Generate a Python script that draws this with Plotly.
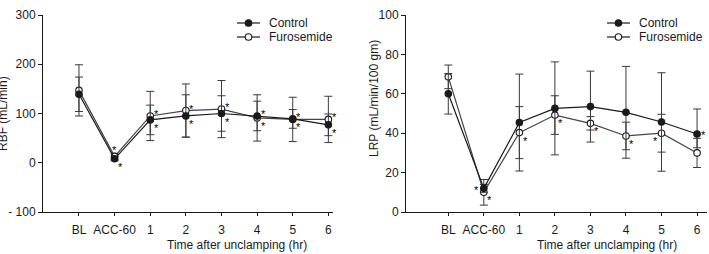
import plotly.graph_objects as go

categories = ["BL", "ACC-60", "1", "2", "3", "4", "5", "6"]

rbf_control = [139, 8, 87, 95, 100, 95, 89, 77]
rbf_control_err = [35, 4, 30, 43, 36, 30, 19, 22]
rbf_furo = [147, 13, 95, 106, 109, 91, 88, 88]
rbf_furo_err = [52, 6, 50, 54, 58, 47, 45, 47]

lrp_control = [60, 12, 45.4, 52.6, 53.5, 50.6, 45.7, 39.6]
lrp_control_err_up = [10.3, 2, 24.6, 23.6, 18, 23.3, 25, 12.7]
lrp_control_err_down = [10.3, 2, 24.6, 23.6, 18, 23.3, 25, 7]
lrp_furo = [68.6, 10, 40.3, 49.2, 45, 38.6, 40, 30]
lrp_furo_err = [6, 6.5, 13.2, 9.8, 3.4, 7, 9.6, 7.4]

# significance markers: (category, which point: "hi"/"lo"/"control"/"furo", placement)
rbf_sig = [("ACC-60", "hi", "top"), ("ACC-60", "lo", "down")] + \
          [(c, w, p) for c in categories[2:] for w, p in (("hi", "up"), ("lo", "down"))]
lrp_sig = [("ACC-60", "control", "left"), ("ACC-60", "furo", "down"), ("1", "furo", "down"),
           ("2", "furo", "down"), ("3", "furo", "down"), ("4", "furo", "down"),
           ("5", "furo", "leftdown"), ("6", "control", "right")]

legend_names = ["Control", "Furosemide"]

FONT = "Liberation Sans, Arial, sans-serif"
INK = "#1a1a1a"
ERR = "#3a3a3a"

fig = go.Figure()

def add_series(x_ax, y_ax, y, up, down, name, filled):
    fig.add_trace(go.Scatter(
        x=categories, y=y, name=name, mode="lines+markers",
        xaxis=x_ax, yaxis=y_ax, showlegend=False,
        line=dict(color=INK if filled else "#444", width=1.2),
        marker=dict(symbol="circle", size=6.5, color=INK if filled else "white",
                    line=dict(color=INK, width=1.1)),
        error_y=dict(type="data", array=up, arrayminus=down, symmetric=False,
                     color=ERR, thickness=1, width=4),
    ))

add_series("x", "y", rbf_furo, rbf_furo_err, rbf_furo_err, "Furosemide", False)
add_series("x", "y", rbf_control, rbf_control_err, rbf_control_err, "Control", True)
add_series("x2", "y2", lrp_furo, lrp_furo_err, lrp_furo_err, "Furosemide", False)
add_series("x2", "y2", lrp_control, lrp_control_err_up, lrp_control_err_down, "Control", True)

shifts = {"up": (6, 5), "down": (6, -5), "left": (-7, 1), "right": (6, 2), "leftdown": (-6, -5),
          "top": (0, 9)}
annotations = []
def add_sig(sig, ctrl, furo, xr, yr):
    for c, w, p in sig:
        i = categories.index(c)
        if w == "hi":
            yv = max(ctrl[i], furo[i])
        elif w == "lo":
            yv = min(ctrl[i], furo[i])
        else:
            yv = ctrl[i] if w == "control" else furo[i]
        dx, dy = shifts[p]
        annotations.append(dict(x=i, y=yv, xref=xr, yref=yr, text="*", showarrow=False,
                                xanchor="center", yanchor="middle",
                                xshift=dx, yshift=dy - 3, font=dict(size=11, color="black", family=FONT)))
add_sig(rbf_sig, rbf_control, rbf_furo, "x", "y")
add_sig(lrp_sig, lrp_control, lrp_furo, "x2", "y2")

W, H = 709, 254
def px(x): return x / W
def py(y): return 1 - y / H

def txt(t, x, y, angle=0):
    return dict(text=t, x=px(x), y=py(y), xref="paper", yref="paper", xanchor="center",
                yanchor="middle", textangle=angle, showarrow=False,
                font=dict(size=12, family=FONT, color=INK))

annotations += [
    txt("Time after unclamping (hr)", 237, 245),
    txt("Time after unclamping (hr)", 607, 245),
    txt("RBF (mL/min)", 3, 114, -90),
    txt("LRP (mL/min/100 gm)", 374, 98, -90),
]

shapes = []
for lx in (237, 607):
    for k, name in enumerate(legend_names):
        yy = 23 + 14 * k
        shapes.append(dict(type="line", xref="paper", yref="paper", x0=px(lx), x1=px(lx + 23),
                           y0=py(yy), y1=py(yy), line=dict(color=INK, width=1.2)))
        cx = lx + 11.5
        shapes.append(dict(type="circle", xref="paper", yref="paper",
                           x0=px(cx - 3.3), x1=px(cx + 3.3), y0=py(yy + 3.3), y1=py(yy - 3.3),
                           fillcolor=INK if k == 0 else "white", line=dict(color=INK, width=1.1)))
        annotations.append(dict(text=name, x=px(lx + 30), y=py(yy), xref="paper", yref="paper",
                                xanchor="left", yanchor="middle", showarrow=False,
                                font=dict(size=12, family=FONT, color=INK)))

axis_common = dict(showline=True, linecolor=INK, linewidth=1, showgrid=False, zeroline=False,
                   tickfont=dict(size=12, family=FONT, color=INK), fixedrange=True, automargin=False)
xcommon = dict(axis_common, type="category", ticks="outside", ticklen=3, tickcolor=INK, tickwidth=1,
               ticklabelstandoff=4)
ycommon = dict(axis_common, ticks="outside", ticklen=4, tickcolor=INK, tickwidth=1)

top, bottom = py(15), py(212)
fig.update_layout(
    template="none",
    width=W, height=H, margin=dict(l=0, r=0, t=0, b=0, pad=0, autoexpand=False),
    paper_bgcolor="white", plot_bgcolor="white",
    font=dict(family=FONT, size=12, color=INK),
    xaxis=dict(xcommon, domain=[px(43), px(333)], range=[-1.01, 7.13], anchor="y"),
    yaxis=dict(ycommon, domain=[bottom, top], range=[-100, 300], tickvals=[-100, 0, 100, 200, 300],
               ticktext=["- 100", "0", "100", "200", "300"], anchor="x"),
    xaxis2=dict(xcommon, domain=[px(406), px(707)], range=[-1.19, 7.28], anchor="y2"),
    yaxis2=dict(ycommon, domain=[bottom, top], range=[0, 100], tickvals=[0, 20, 40, 60, 80, 100], anchor="x2"),
    annotations=annotations,
    shapes=shapes,
    showlegend=False,
)

fig.write_html("out.html")
